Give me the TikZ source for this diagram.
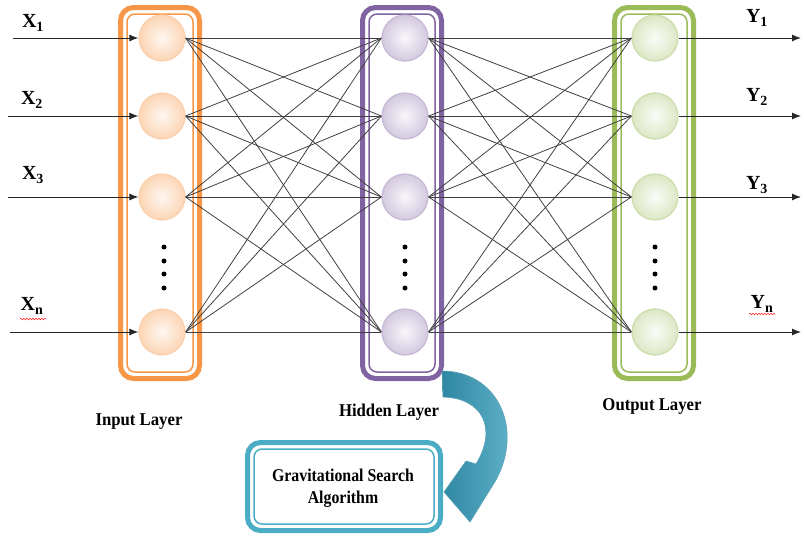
\documentclass[tikz,border=0pt]{standalone}
\usepackage{fontspec}
\setmainfont{Liberation Serif}
\usetikzlibrary{arrows.meta,decorations.pathmorphing}
\definecolor{orgC}{HTML}{F79646}
\definecolor{purC}{HTML}{8064A2}
\definecolor{grnC}{HTML}{9BBB59}
\definecolor{aquC}{HTML}{4BACC6}
\definecolor{aquD}{HTML}{2F87A3}
\begin{document}
\begin{tikzpicture}[x=1pt,y=-1pt,
  neuron/.style={circle, minimum size=46pt, inner sep=0pt, line width=1.2pt},
  inN/.style={neuron, draw=orgC!45, inner color=orgC!8, outer color=orgC!40},
  hidN/.style={neuron, draw=purC!45, inner color=purC!5, outer color=purC!35},
  outN/.style={neuron, draw=grnC!50, inner color=grnC!5, outer color=grnC!35},
  conn/.style={draw=black!75, line width=0.8pt},
  arr/.style={draw=black!85, line width=1pt, -{Latex[length=9pt,width=7pt]}},
  outerband/.style={line width=5pt, rounded corners=13pt},
  innerband/.style={line width=1.5pt, rounded corners=8pt},
  lab/.style={font=\bfseries\fontsize{20}{22}\selectfont, inner sep=0pt},
  layerlab/.style={font=\bfseries\fontsize{18}{20}\selectfont, inner sep=0pt},
  dotc/.style={fill=black, circle, inner sep=0pt, minimum size=5pt},
  squig/.style={draw=red!80, line width=0.6pt, decorate, decoration={snake, amplitude=0.8pt, segment length=3pt}}
]
\path[use as bounding box] (0,0) rectangle (804,538);

% layer boxes
\draw[orgC, outerband] (120.5,7.5) rectangle (199.5,378.5);
\draw[orgC, innerband] (127,14) rectangle (193,372);
\draw[purC, outerband] (362.5,7.5) rectangle (441.5,378.5);
\draw[purC, innerband] (369,14) rectangle (435,372);
\draw[grnC, outerband] (614.5,7.5) rectangle (693.5,378.5);
\draw[grnC, innerband] (621,14) rectangle (687,372);

% neurons
\foreach \k/\yy in {1/38, 2/116, 3/197, 4/332} {
  \node[inN]  (i\k) at (162,\yy) {};
  \node[hidN] (h\k) at (405,\yy) {};
  \node[outN] (o\k) at (655,\yy) {};
}

% dots
\foreach \xx/\nm in {164/a, 405/b, 655/c} {
  \foreach \yy [count=\m] in {247, 261, 274, 288} {
    \node[dotc] (d\nm\m) at (\xx,\yy) {};
  }
}

% connections
\foreach \a in {1,...,4} {
  \foreach \b in {1,...,4} {
    \draw[conn] (i\a.east) -- (h\b.west);
    \draw[conn] (h\a.east) -- (o\b.west);
  }
}

% inputs and outputs
\foreach \k/\yy/\sx in {1/38/13, 2/116/8, 3/197/8, 4/332/10} {
  \coordinate (xs\k) at (\sx,\yy);
  \coordinate (ye\k) at (801,\yy);
  \draw[arr] (xs\k) -- (i\k.west);
  \draw[arr] (o\k.east) -- (ye\k);
}

\node[lab] (lx1) at (33,23) {X\textsubscript{1}};
\node[lab] (lx2) at (32,100) {X\textsubscript{2}};
\node[lab] (lx3) at (33,175) {X\textsubscript{3}};
\node[lab] (lx4) at (32,306) {X\textsubscript{n}};
\node[lab] (ly1) at (757,18) {Y\textsubscript{1}};
\node[lab] (ly2) at (757,97) {Y\textsubscript{2}};
\node[lab] (ly3) at (757,185) {Y\textsubscript{3}};
\node[lab] (ly4) at (762,304) {Y\textsubscript{n}};
\draw[squig] (20,319) -- (46,319);
\draw[squig] (749,314) -- (775,314);

% layer labels
\node[layerlab] (linput) at (139,422) {\scalebox{0.93}[1]{Input Layer}};
\node[layerlab] (lhidden) at (389,412) {\scalebox{0.93}[1]{Hidden Layer}};
\node[layerlab] (loutput) at (652,406) {\scalebox{0.93}[1]{Output Layer}};

% curved arrow
\path[left color=aquD, right color=aquC!85, draw=aquD!80, line width=0.6pt]
  (442,371) .. controls (497,371) and (524,428) .. (496,480)
  -- (470,522) -- (444,492) -- (466,461) -- (476,464)
  .. controls (498,428) and (482,398) .. (443,397) -- cycle;

% GSA box
\draw[aquC, outerband] (247.5,442.5) rectangle (440.5,530.5);
\draw[aquC, innerband] (254,449) rectangle (434,524);
\node[layerlab, align=center] (gsa) at (343,488) {\scalebox{0.88}[1]{Gravitational Search}\\[2pt]\scalebox{0.88}[1]{Algorithm}};
\end{tikzpicture}
\end{document}
